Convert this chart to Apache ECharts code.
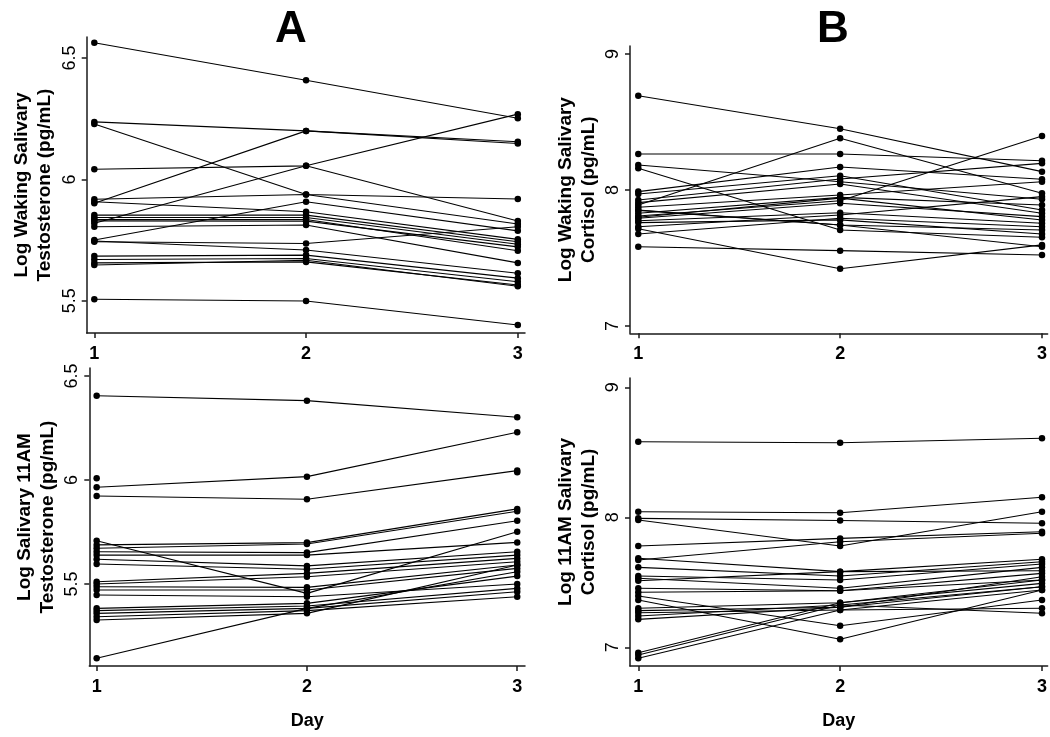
<!DOCTYPE html>
<html>
<head>
<meta charset="utf-8">
<script src="https://cdn.jsdelivr.net/npm/echarts@6/dist/echarts.min.js"></script>
<style>
html,body{margin:0;padding:0;background:#fff;}
#chart{width:1050px;height:737px;}
</style>
</head>
<body>
<div id="chart"></div>
<script>
// ---------- data ----------
const days = [1, 2, 3];
const dayTicks = [1, 2, 3];

// Panel A top: Log Waking Salivary Testosterone
const wakeT_d1 = [6.563, 6.237, 5.902, 6.042, 5.819, 6.228, 5.918, 5.750, 5.908, 5.853, 5.843, 5.829, 5.805, 5.743, 5.746, 5.684, 5.670, 5.656, 5.647, 5.506, 5.835];
const wakeT_d2 = [6.409, 6.200, 6.200, 6.056, 6.056, 5.938, 5.938, 5.908, 5.867, 5.853, 5.843, 5.828, 5.812, 5.736, 5.709, 5.688, 5.674, 5.660, 5.667, 5.499, 5.835];
const wakeT_d3 = [6.252, 6.155, 6.148, 6.269, 5.829, 5.919, 5.816, 5.788, 5.753, 5.743, 5.733, 5.722, 5.656, 5.805, 5.613, 5.593, 5.578, 5.565, 5.560, 5.400, 5.706];
const wakeT_ticks = [5.5, 6, 6.5];

// Panel B top: Log Waking Salivary Cortisol
const wakeC_d1 = [8.693, 8.265, 8.184, 8.160, 7.890, 7.809, 7.988, 7.971, 7.926, 7.907, 7.873, 7.829, 7.792, 7.774, 7.730, 7.715, 7.676, 7.583, 7.850, 7.800, 7.760, 7.853];
const wakeC_d2 = [8.451, 8.265, 8.061, 7.706, 8.380, 7.921, 8.169, 8.105, 8.081, 8.044, 7.963, 7.946, 7.902, 7.833, 7.816, 7.421, 7.792, 7.554, 7.743, 7.940, 7.780, 7.743];
const wakeC_d3 = [8.135, 8.215, 7.932, 7.652, 7.976, 8.397, 8.079, 7.853, 8.196, 7.829, 8.061, 7.890, 7.804, 7.755, 7.951, 7.596, 7.730, 7.522, 7.706, 7.779, 7.676, 7.583];
const wakeC_ticks = [7, 8, 9];

// Panel A bottom: Log Salivary 11AM Testosterone
const amT_d1 = [6.405, 5.965, 6.008, 5.923, 5.708, 5.688, 5.672, 5.655, 5.639, 5.619, 5.596, 5.511, 5.500, 5.487, 5.471, 5.447, 5.383, 5.372, 5.359, 5.343, 5.327, 5.143];
const amT_d2 = [6.381, 6.016, null,  5.907, 5.455, 5.699, 5.692, 5.651, 5.639, 5.587, 5.571, 5.551, 5.535, 5.484, 5.471, 5.439, 5.407, 5.394, 5.383, 5.372, 5.359, 5.383];
const amT_d3 = [6.301, 6.229, 6.037, 6.045, 5.751, 5.861, 5.850, 5.804, 5.700, 5.655, 5.639, 5.623, 5.607, 5.591, 5.575, 5.500, 5.538, 5.479, 5.463, 5.439, 5.591, 5.559];
const amT_ticks = [5.5, 6, 6.5];

// Panel B bottom: Log 11AM Salivary Cortisol
const amC_d1 = [8.582, 8.043, 7.992, 7.979, 7.779, 7.685, 7.672, 7.615, 7.548, 7.531, 7.512, 7.454, 7.395, 7.364, 7.300, 7.282, 7.266, 7.241, 7.215, 6.958, 6.941, 6.915, 7.423];
const amC_d2 = [8.574, 8.035, 7.975, 7.779, 7.838, 7.582, 7.812, 7.548, 7.518, 7.454, 7.582, 7.435, 7.166, 7.062, 7.343, 7.308, 7.287, 7.325, 7.308, 7.343, 7.325, 7.287, 7.435];
const amC_d3 = [8.608, 8.154, 7.954, 8.043, 7.889, 7.677, 7.877, 7.658, 7.641, 7.615, 7.589, 7.569, 7.364, 7.441, 7.492, 7.466, 7.300, 7.262, 7.543, 7.518, 7.466, 7.441, 7.518];
const amC_ticks = [7, 8, 9];

// ---------- chart ----------
const FONT = "'Liberation Sans', Arial, sans-serif";
const AX = '#1a1a1a';

const panels = [
  { d: [wakeT_d1, wakeT_d2, wakeT_d3], ticks: wakeT_ticks, ymin: 5.367, ymax: 6.587,
    name: 'Log Waking Salivary\nTestosterone (pg/mL)', grid: {left: 86.7, top: 37, width: 438.3, height: 296},
    xmin: 0.964, xmax: 3.034, xname: '' },
  { d: [wakeC_d1, wakeC_d2, wakeC_d3], ticks: wakeC_ticks, ymin: 6.946, ymax: 9.059,
    name: 'Log Waking Salivary\nCortisol (pg/mL)', grid: {left: 630, top: 46, width: 418, height: 287.3},
    xmin: 0.959, xmax: 3.028, xname: '' },
  { d: [amT_d1, amT_d2, amT_d3], ticks: amT_ticks, ymin: 5.106, ymax: 6.538,
    name: 'Log Salivary 11AM\nTestosterone (pg/mL)', grid: {left: 89.3, top: 368, width: 435.7, height: 298},
    xmin: 0.965, xmax: 3.037, xname: 'Day' },
  { d: [amC_d1, amC_d2, amC_d3], ticks: amC_ticks, ymin: 6.856, ymax: 9.072,
    name: 'Log 11AM Salivary\nCortisol (pg/mL)', grid: {left: 630, top: 378, width: 418, height: 288},
    xmin: 0.959, xmax: 3.028, xname: 'Day' }
];

const grids = [], xAxes = [], yAxes = [], series = [];
panels.forEach((p, g) => {
  grids.push(Object.assign({containLabel: false}, p.grid));
  xAxes.push({
    type: 'value', gridIndex: g, min: p.xmin, max: p.xmax,
    axisLine: {show: true, onZero: false, lineStyle: {color: AX, width: 1.5}},
    axisTick: {show: true, length: 5, customValues: dayTicks, lineStyle: {color: AX, width: 1.5}},
    axisLabel: {customValues: dayTicks, color: '#000', fontSize: 18, fontWeight: 'bold', fontFamily: FONT, margin: 12},
    splitLine: {show: false},
    name: p.xname, nameLocation: 'middle', nameGap: 46,
    nameTextStyle: {color: '#000', fontSize: 18, fontWeight: 'bold', fontFamily: FONT}
  });
  yAxes.push({
    type: 'value', gridIndex: g, min: p.ymin, max: p.ymax,
    axisLine: {show: true, lineStyle: {color: AX, width: 1.5}},
    axisTick: {show: true, length: 5, customValues: p.ticks, lineStyle: {color: AX, width: 1.5}},
    axisLabel: {customValues: p.ticks, rotate: 90, color: '#000', fontSize: 18, fontFamily: FONT, margin: 8},
    splitLine: {show: false},
    name: p.name, nameLocation: 'middle', nameRotate: 90, nameGap: 30,
    nameTextStyle: {color: '#000', fontSize: 19, fontWeight: 'bold', fontFamily: FONT, lineHeight: 23}
  });
  const n = p.d[0].length;
  for (let i = 0; i < n; i++) {
    series.push({
      type: 'line', xAxisIndex: g, yAxisIndex: g,
      data: days.map((day, k) => [day, p.d[k][i] == null ? '-' : p.d[k][i]]),
      symbol: 'circle', symbolSize: 6.5, showSymbol: true,
      itemStyle: {color: '#000'},
      lineStyle: {color: '#000', width: 1.1},
      silent: true, animation: false, clip: false
    });
  }
});

const chart = echarts.init(document.getElementById('chart'), null, {renderer: 'canvas'});
chart.setOption({
  backgroundColor: '#fff',
  animation: false,
  grid: grids, xAxis: xAxes, yAxis: yAxes, series: series,
  graphic: [
    {type: 'text', x: 291, y: 30, style: {text: 'A', font: 'bold 44px ' + FONT, fill: '#000', textAlign: 'center', textVerticalAlign: 'middle'}},
    {type: 'text', x: 833, y: 30, style: {text: 'B', font: 'bold 44px ' + FONT, fill: '#000', textAlign: 'center', textVerticalAlign: 'middle'}}
  ]
});
</script>
</body>
</html>
